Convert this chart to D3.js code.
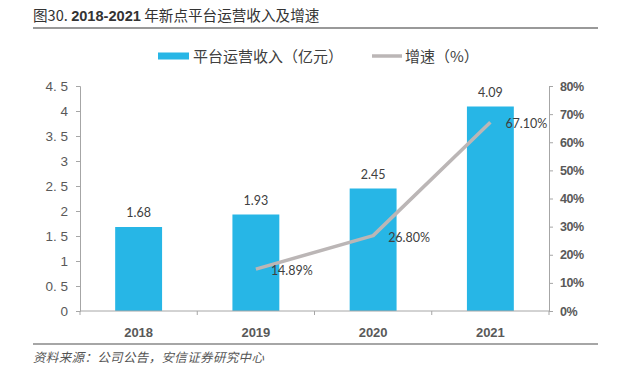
<!DOCTYPE html>
<html>
<head>
<meta charset="utf-8">
<script src="https://cdn.jsdelivr.net/npm/d3@7"></script>
<style>
  body { margin: 0; background: #fff; }
  svg { display: block; }
</style>
</head>
<body>
<div id="chart"></div>
<script>
// data
const years = ["2018", "2019", "2020", "2021"];
const revenue = [1.68, 1.93, 2.45, 4.09];
const growth = [null, 14.89, 26.80, 67.10];
const leftTicks = [0, 0.5, 1, 1.5, 2, 2.5, 3, 3.5, 4, 4.5];
const rightTicks = [0, 10, 20, 30, 40, 50, 60, 70, 80];

const width = 631, height = 375;
const margin = { top: 86, right: 82, bottom: 64, left: 80 };
const cnFont = "'Noto Sans CJK SC', sans-serif";
const numFont = "'Liberation Sans', Arial, sans-serif";
const lblFont = "Lato, 'Open Sans', sans-serif";

const svg = d3.select("#chart").append("svg")
    .attr("width", width)
    .attr("height", height);

// title + rules
svg.append("text")
    .attr("x", 33).attr("y", 21)
    .style("font-family", cnFont)
    .style("font-size", "14.6px")
    .style("fill", "#333")
    .html("图30. <tspan style=\"font-family:'Liberation Sans',Arial;font-weight:bold\">2018-2021</tspan> 年新点平台运营收入及增速");

svg.append("line")
    .attr("x1", 33).attr("x2", 598).attr("y1", 28).attr("y2", 28)
    .style("stroke", "#777").style("stroke-width", 1.5);

svg.append("line")
    .attr("x1", 33).attr("x2", 598).attr("y1", 344).attr("y2", 344)
    .style("stroke", "#888").style("stroke-width", 1.5);

svg.append("text")
    .attr("x", 33).attr("y", 362)
    .style("font-family", cnFont)
    .style("font-size", "12.5px")
    .style("letter-spacing", "0.35px")
    .style("font-style", "italic")
    .style("fill", "#555")
    .text("资料来源：公司公告，安信证券研究中心");

// scales
const xScale = d3.scaleBand()
    .domain(years)
    .range([margin.left, width - margin.right])
    .paddingInner(0.6)
    .paddingOuter(0.3);

const yLeft = d3.scaleLinear()
    .domain([0, 4.5])
    .range([height - margin.bottom, margin.top]);

const yRight = d3.scaleLinear()
    .domain([0, 80])
    .range([height - margin.bottom, margin.top]);

const bandStep = xScale.step();

// bars
svg.selectAll(".bar")
    .data(years)
    .enter()
    .append("rect")
    .attr("class", "bar")
    .attr("x", d => xScale(d))
    .attr("width", xScale.bandwidth())
    .attr("y", (d, i) => yLeft(revenue[i]))
    .attr("height", (d, i) => yLeft(0) - yLeft(revenue[i]))
    .style("fill", "#27B6E6");

svg.selectAll(".bar-label")
    .data(years)
    .enter()
    .append("text")
    .attr("x", d => xScale(d) + xScale.bandwidth() / 2)
    .attr("y", (d, i) => yLeft(revenue[i]) - 10)
    .style("text-anchor", "middle")
    .style("font-family", lblFont)
    .style("font-size", "12.5px")
    .style("fill", "#404040")
    .text((d, i) => revenue[i].toFixed(2));

// growth line
const pts = years.map((d, i) => ({ year: d, v: growth[i] })).filter(d => d.v !== null);
const lineGenerator = d3.line()
    .x(d => xScale(d.year) + xScale.bandwidth() / 2)
    .y(d => yRight(d.v));

svg.append("path")
    .datum(pts)
    .attr("d", lineGenerator)
    .attr("fill", "none")
    .attr("stroke", "#BBB6B6")
    .attr("stroke-width", 3.5)
    .attr("stroke-linejoin", "round");

svg.selectAll(".line-label")
    .data(pts)
    .enter()
    .append("text")
    .attr("x", d => xScale(d.year) + xScale.bandwidth() / 2 + 15)
    .attr("y", d => yRight(d.v) + 6)
    .style("font-family", lblFont)
    .style("font-size", "12.5px")
    .style("fill", "#404040")
    .text(d => d.v.toFixed(2) + "%");

// x axis
const xAxis = svg.append("g")
    .attr("transform", `translate(0,${height - margin.bottom})`);
xAxis.append("line")
    .attr("x1", margin.left).attr("x2", width - margin.right)
    .style("stroke", "#A6A6A6");
xAxis.selectAll(".xtick")
    .data(d3.range(years.length + 1))
    .enter()
    .append("line")
    .attr("x1", i => margin.left + i * bandStep)
    .attr("x2", i => margin.left + i * bandStep)
    .attr("y1", 0).attr("y2", 4)
    .style("stroke", "#A6A6A6");
xAxis.selectAll(".xlabel")
    .data(years)
    .enter()
    .append("text")
    .attr("x", d => xScale(d) + xScale.bandwidth() / 2)
    .attr("y", 26)
    .style("text-anchor", "middle")
    .style("font-family", numFont)
    .style("font-weight", "bold")
    .style("font-size", "13px")
    .style("fill", "#595959")
    .text(d => d);

// left axis
const leftAxis = d3.axisLeft(yLeft)
    .tickValues(leftTicks)
    .tickSize(4)
    .tickPadding(8)
    .tickFormat(d => String(d).replace(".", ". "));
const gl = svg.append("g")
    .attr("transform", `translate(${margin.left},0)`)
    .call(leftAxis);
gl.select(".domain").style("stroke", "#A6A6A6");
gl.selectAll("line").style("stroke", "#A6A6A6");
gl.selectAll("text")
    .style("font-family", numFont)
    .style("font-size", "13.5px")
    .style("fill", "#595959");

// right axis
const rightAxis = d3.axisRight(yRight)
    .tickValues(rightTicks)
    .tickSize(4)
    .tickPadding(7)
    .tickFormat(d => d + "%");
const gr = svg.append("g")
    .attr("transform", `translate(${width - margin.right},0)`)
    .call(rightAxis);
gr.select(".domain").style("stroke", "#A6A6A6");
gr.selectAll("line").style("stroke", "#A6A6A6");
gr.selectAll("text")
    .style("font-family", numFont)
    .style("font-weight", "bold")
    .style("font-size", "12.5px")
    .style("letter-spacing", "-0.5px")
    .style("fill", "#595959");

// legend
const legend = svg.append("g").attr("transform", "translate(158,56)");
legend.append("rect")
    .attr("x", 0).attr("y", -3.5)
    .attr("width", 31).attr("height", 7)
    .style("fill", "#27B6E6");
legend.append("text")
    .attr("x", 35).attr("y", 5.5)
    .style("font-family", cnFont)
    .style("font-size", "15px")
    .style("fill", "#404040")
    .text("平台运营收入（亿元）");
legend.append("line")
    .attr("x1", 214).attr("x2", 244).attr("y1", 0).attr("y2", 0)
    .style("stroke", "#BBB6B6")
    .style("stroke-width", 3.5);
legend.append("text")
    .attr("x", 247).attr("y", 5.5)
    .style("font-family", cnFont)
    .style("font-size", "15px")
    .style("fill", "#404040")
    .text("增速（%）");
</script>
</body>
</html>
